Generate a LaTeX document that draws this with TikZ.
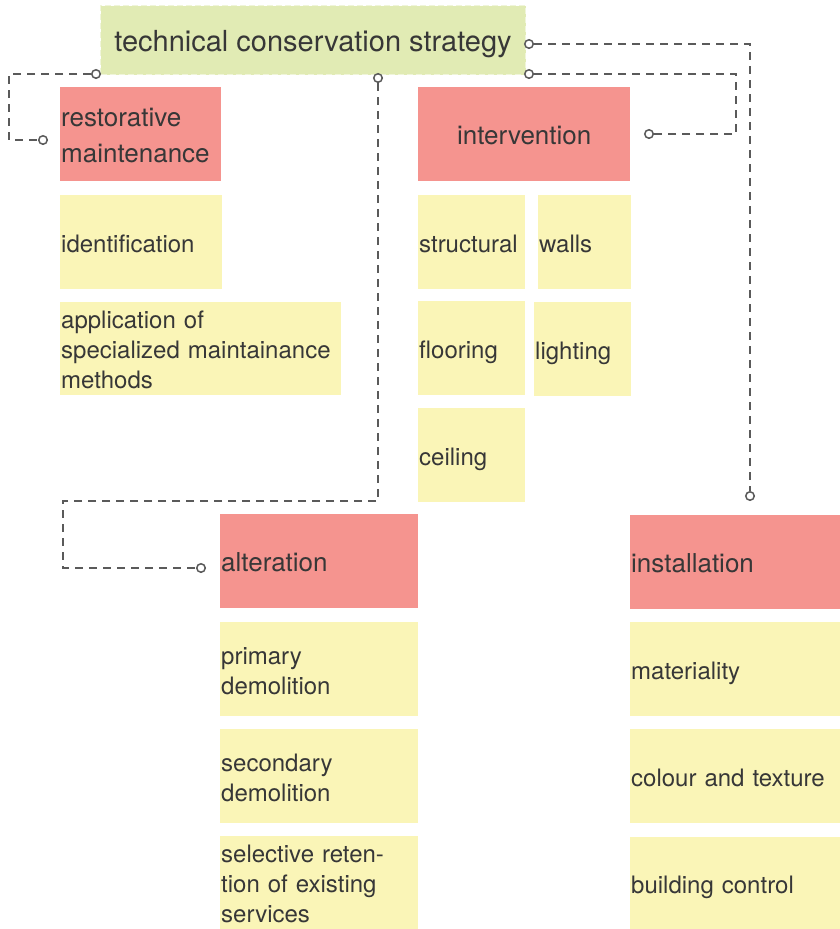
\documentclass[tikz,border=0pt]{standalone}
\usepackage{fontspec}
\setmainfont{TeX Gyre Heros}
\definecolor{txt}{RGB}{55,55,55}
\definecolor{redc}{RGB}{245,148,143}
\definecolor{yelc}{RGB}{250,245,183}
\definecolor{grnc}{RGB}{225,235,180}
\definecolor{grnedge}{RGB}{240,245,218}
\definecolor{linec}{RGB}{90,90,90}
\newcommand\ytop{\rule{0pt}{25pt}}
\newcommand\ybot{\rule[-5pt]{0pt}{5pt}}
\newcommand\rtop{\rule{0pt}{29pt}}
\newcommand\rbot{\rule[-7.5pt]{0pt}{7.5pt}}
\begin{document}
\begin{tikzpicture}[x=1pt,y=-1pt,
  base/.style={anchor=north west, inner xsep=1pt, inner ysep=0pt, align=left, text=txt},
  ybox/.style={base, fill=yelc, font=\fontsize{24}{30}\selectfont,
    execute at begin node=\ytop, execute at end node=\ybot},
  rbox/.style={base, fill=redc, font=\fontsize{26}{36}\selectfont,
    execute at begin node=\rtop, execute at end node=\rbot},
  conn/.style={draw=linec, line width=1.6pt, dash pattern=on 8pt off 6pt},
  port/.style={circle, draw=linec, fill=white, line width=1.5pt, minimum size=8.5pt, inner sep=0pt}
]
\useasboundingbox (0,0) rectangle (840,929);

% title
\node[anchor=north west, fill=grnc, draw=grnedge, line width=1pt, dash pattern=on 6pt off 3pt,
  minimum width=425pt, minimum height=69pt, inner sep=0pt, text=txt, text height=29pt, text depth=6pt,
  font=\fontsize{29}{34}\selectfont] (title) at (100,5) {technical conservation strategy};

% restorative maintenance
\node[rbox, text width=159pt, minimum height=94pt] (rm) at (60,87) {restorative\\maintenance};
\node[ybox, text width=160pt, minimum height=94pt] (ident) at (60,195) {identification};
\node[ybox, text width=279pt, minimum height=93pt] (appl) at (60,302) {application of\\specialized maintainance\\methods};

% intervention
\node[rbox, text width=210pt, minimum height=94pt, align=center] (interv) at (418,87) {intervention};
\node[ybox, text width=105pt, minimum height=94pt] (struct) at (418,195) {structural};
\node[ybox, text width=91pt, minimum height=94pt] (walls) at (538,195) {walls};
\node[ybox, text width=105pt, minimum height=94pt] (floor) at (418,301) {flooring};
\node[ybox, text width=95pt, minimum height=94pt] (light) at (534,302) {lighting};
\node[ybox, text width=105pt, minimum height=94pt] (ceil) at (418,408) {ceiling};

% alteration
\node[rbox, text width=196pt, minimum height=94pt] (alter) at (220,514) {alteration};
\node[ybox, text width=196pt, minimum height=94pt] (prim) at (220,622) {primary\\demolition};
\node[ybox, text width=196pt, minimum height=94pt] (sec) at (220,729) {secondary\\demolition};
\node[ybox, text width=196pt, minimum height=93pt] (sel) at (220,836) {selective reten-\\tion of existing\\services};

% installation
\node[rbox, text width=208pt, minimum height=94pt] (inst) at (630,515) {installation};
\node[ybox, text width=208pt, minimum height=94pt] (mat) at (630,622) {materiality};
\node[ybox, text width=208pt, minimum height=94pt] (col) at (630,729) {colour and texture};
\node[ybox, text width=208pt, minimum height=92pt] (bc) at (630,837) {building control};

% ports
\node[port] (p1) at (96,74) {};
\node[port] (p2) at (43,140) {};
\node[port] (p3) at (378,78) {};
\node[port] (p4) at (201,568) {};
\node[port] (p5) at (529,74) {};
\node[port] (p6) at (649,134) {};
\node[port] (p7) at (529,44) {};
\node[port] (p8) at (750,496) {};

% connectors
\draw[conn] (p1.west) -- (9,74) |- (p2.west);
\draw[conn] (p3.south) |- (63,501) |- (p4.west);
\draw[conn] (p5.east) -| (736,134) -- (p6.east);
\draw[conn] (p7.east) -| (p8.north);
\end{tikzpicture}
\end{document}
